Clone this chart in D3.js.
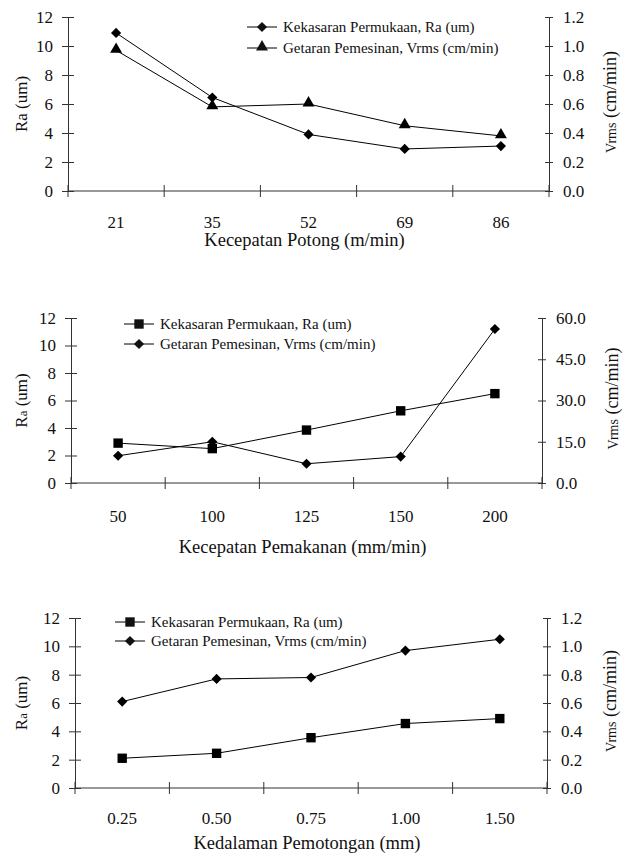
<!DOCTYPE html>
<html>
<head>
<meta charset="utf-8">
<script src="https://d3js.org/d3.v7.min.js"></script>
<title>Ra dan Vrms</title>
<style>
body { margin: 0; background: #fff; }
svg { display: block; }
svg text { font-family: "Liberation Serif", "Times New Roman", "DejaVu Serif", serif; }
.axis path, .axis line { stroke: #333; }
.axis text { fill: #111; }
</style>
</head>
<body>
<svg width="630" height="854"></svg>
<script>

// values
let raTicks = [0, 2, 4, 6, 8, 10, 12];

let cats1 = ["21", "35", "52", "69", "86"];
let ra1 = [10.9, 6.45, 3.9, 2.9, 3.1];
let vrms1 = [0.97, 0.58, 0.60, 0.45, 0.38];
let vTicks1 = [0, 0.2, 0.4, 0.6, 0.8, 1.0, 1.2];

let cats2 = ["50", "100", "125", "150", "200"];
let ra2 = [2.9, 2.5, 3.85, 5.25, 6.5];
let vrms2 = [9.9, 15.0, 7.0, 9.6, 56.0];
let vTicks2 = [0, 15, 30, 45, 60];

let cats3 = ["0.25", "0.50", "0.75", "1.00", "1.50"];
let ra3 = [2.1, 2.45, 3.55, 4.55, 4.9];
let vrms3 = [0.61, 0.77, 0.78, 0.97, 1.05];
let vTicks3 = [0, 0.2, 0.4, 0.6, 0.8, 1.0, 1.2];

let legRa = "Kekasaran Permukaan, Ra (um)";
let legV = "Getaran Pemesinan, Vrms (cm/min)";

let svg = d3.select("svg");

let diamond = d3.symbol().type(d3.symbolSquare).size(52);
let square = d3.symbol().type(d3.symbolSquare).size(88);
let triangle = d3.symbol().type(d3.symbolTriangle).size(62);

function marker(g, kind, x, y) {
  if (kind == "diamond") {
    g.append("path").attr("d", diamond)
      .attr("transform", "translate(" + x + "," + y + ") rotate(45)");
  } else if (kind == "square") {
    g.append("path").attr("d", square)
      .attr("transform", "translate(" + x + "," + y + ")");
  } else {
    g.append("path").attr("d", triangle)
      .attr("transform", "translate(" + x + "," + (y - 1) + ")");
  }
}

function cleanAxis(a) {
  a.attr("font-family", null).attr("font-size", null);
  a.selectAll("text").style("font-size", "17px");
}

function drawChart(c) {
  let g = svg.append("g");

  let x = d3.scaleBand().domain(c.cats).range([c.x0, c.x1]);
  let yL = d3.scaleLinear().domain([0, 12]).range([c.y1, c.y0]);
  let yR = d3.scaleLinear().domain([0, c.vTicks[c.vTicks.length - 1]]).range([c.y1, c.y0]);

  // left axis
  let aL = g.append("g").attr("class", "axis")
    .attr("transform", "translate(" + c.x0 + ",0)")
    .call(d3.axisLeft(yL).tickValues(raTicks).tickSizeOuter(0).tickPadding(9)
      .tickFormat(d3.format("d")));
  aL.selectAll(".tick line").attr("x1", -6).attr("x2", 6);
  cleanAxis(aL);

  // right axis
  let aR = g.append("g").attr("class", "axis")
    .attr("transform", "translate(" + c.x1 + ",0)")
    .call(d3.axisRight(yR).tickValues(c.vTicks).tickSizeOuter(0).tickPadding(8)
      .tickFormat(d3.format(".1f")));
  aR.selectAll(".tick line").attr("x1", -4).attr("x2", 4);
  cleanAxis(aR);

  // bottom axis: labels at band centres, ticks at band edges
  let aB = g.append("g").attr("class", "axis")
    .attr("transform", "translate(0," + c.y1 + ")")
    .call(d3.axisBottom(x).tickSize(0).tickPadding(c.lblPad));
  aB.select(".domain").attr("d", "M" + c.x0 + ",0H" + c.x1);
  cleanAxis(aB);
  let edges = c.cats.map(function(d) { return x(d); }).concat([c.x1]);
  aB.selectAll("line.edge").data(edges).enter().append("line")
    .attr("class", "edge")
    .attr("x1", function(d) { return d; }).attr("x2", function(d) { return d; })
    .attr("y1", -6).attr("y2", 6);

  // series
  let cx = function(i) { return x(c.cats[i]) + x.bandwidth() / 2; };
  let lineL = d3.line().x(function(d, i) { return cx(i); }).y(function(d) { return yL(d); });
  let lineR = d3.line().x(function(d, i) { return cx(i); }).y(function(d) { return yR(d); });

  g.append("path").attr("d", lineL(c.ra)).attr("fill", "none").attr("stroke", "#000").attr("stroke-width", 1);
  g.append("path").attr("d", lineR(c.vrms)).attr("fill", "none").attr("stroke", "#000").attr("stroke-width", 1);

  let mk = g.append("g").attr("fill", "#000");
  c.ra.forEach(function(d, i) { marker(mk, c.raMark, cx(i), yL(d)); });
  c.vrms.forEach(function(d, i) { marker(mk, c.vMark, cx(i), yR(d)); });

  // legend
  let leg = g.append("g").attr("fill", "#111").style("font-size", "15px");
  [[legRa, c.raMark], [legV, c.vMark]].forEach(function(e, i) {
    let ly = c.legY + i * c.legGap;
    leg.append("line").attr("x1", c.legX).attr("x2", c.legX + 30)
      .attr("y1", ly).attr("y2", ly).attr("stroke", "#000");
    marker(leg, e[1], c.legX + 15, ly);
    leg.append("text").attr("x", c.legX + 36).attr("y", ly).attr("dy", "0.33em").text(e[0]);
  });

  // axis titles
  g.append("text").attr("x", (c.x0 + c.x1) / 2 - 4).attr("y", c.titleY)
    .attr("text-anchor", "middle").attr("dy", "0.35em")
    .style("font-size", "18.5px").attr("fill", "#111").text(c.xTitle);

  let ly = (c.y0 + c.y1) / 2;
  let tL = g.append("text").attr("text-anchor", "middle").attr("fill", "#111")
    .attr("transform", "translate(21," + ly + ") rotate(-90)").attr("dy", "0.35em")
    .style("font-size", "17px");
  if (c.smallA) {
    tL.append("tspan").text("R");
    tL.append("tspan").style("font-size", "13px").text("a");
    tL.append("tspan").text(" (um)");
  } else {
    tL.text("Ra (um)");
  }

  let tR = g.append("text").attr("text-anchor", "middle").attr("fill", "#111")
    .attr("transform", "translate(" + c.rX + "," + (ly - 2) + ") rotate(-90)").attr("dy", "0.35em")
    .style("font-size", "18px");
  tR.append("tspan").style("font-size", "14px").text("Vrms");
  tR.append("tspan").text(" (cm/min)");
}

drawChart({
  cats: cats1, ra: ra1, vrms: vrms1, vTicks: vTicks1,
  x0: 68, x1: 549, y0: 17, y1: 191,
  raMark: "diamond", vMark: "triangle",
  legX: 247, legY: 27, legGap: 21,
  lblPad: 25, titleY: 240, rX: 610, smallA: false,
  xTitle: "Kecepatan Potong (m/min)"
});

drawChart({
  cats: cats2, ra: ra2, vrms: vrms2, vTicks: vTicks2,
  x0: 71, x1: 542, y0: 318, y1: 483,
  raMark: "square", vMark: "diamond",
  legX: 124, legY: 324, legGap: 20,
  lblPad: 27, titleY: 547, rX: 612, smallA: true,
  xTitle: "Kecepatan Pemakanan (mm/min)"
});

drawChart({
  cats: cats3, ra: ra3, vrms: vrms3, vTicks: vTicks3,
  x0: 75, x1: 547, y0: 618, y1: 788,
  raMark: "square", vMark: "diamond",
  legX: 115, legY: 622, legGap: 19,
  lblPad: 24, titleY: 843, rX: 610, smallA: true,
  xTitle: "Kedalaman Pemotongan (mm)"
});

</script>
</body>
</html>
